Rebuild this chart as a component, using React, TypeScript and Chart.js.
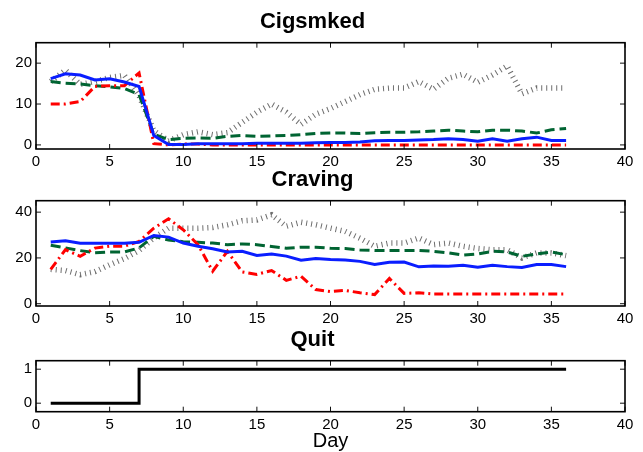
import React, { useEffect, useRef } from "react";
import { Chart, registerables } from "chart.js";

Chart.register(...registerables);

const days = [1, 2, 3, 4, 5, 6, 7, 8, 9, 10, 11, 12, 13, 14, 15, 16, 17, 18, 19, 20, 21, 22, 23, 24, 25, 26, 27, 28, 29, 30, 31, 32, 33, 34, 35, 36];
const xTickValues = [0, 5, 10, 15, 20, 25, 30, 35, 40];

// Cigsmked
const cigBlue = [16.2, 17.4, 17.1, 15.9, 16.2, 15.4, 14.3, 2.3, 0.1, 0.1, 0.3, 0.3, 0.3, 0.3, 0.4, 0.4, 0.4, 0.4, 0.5, 0.6, 0.6, 0.7, 1.0, 1.1, 1.1, 1.2, 1.3, 1.5, 1.3, 0.9, 1.5, 0.9, 1.5, 1.9, 1.1, 1.1];
const cigGreen = [15.5, 15.1, 14.9, 14.5, 14.2, 13.8, 12.3, 2.6, 1.3, 1.6, 1.7, 1.6, 2.1, 2.3, 2.1, 2.2, 2.3, 2.5, 2.8, 2.9, 2.9, 2.8, 3.0, 3.1, 3.1, 3.2, 3.4, 3.6, 3.4, 3.2, 3.6, 3.6, 3.4, 2.9, 3.7, 4.0];
const cigRed = [10.0, 10.0, 10.6, 14.3, 14.5, 14.5, 17.6, 0.3, 0, 0.2, 0.2, 0, 0, 0, 0, 0, 0, 0, 0, 0, 0, 0, 0, 0, 0, 0, 0, 0, 0, 0, 0, 0, 0, 0, 0, 0];
const cigBlack = [15.5, 18.3, 14.8, 15.5, 16.5, 17.0, 12.0, 3.5, 1.0, 2.5, 3.2, 2.5, 3.0, 5.5, 8.0, 10.0, 8.0, 5.0, 7.5, 8.9, 10.6, 12.3, 13.6, 13.9, 13.9, 15.5, 13.6, 16.3, 17.3, 15.3, 17.1, 19.3, 12.5, 13.9, 13.9, 13.9];
const cigYTicks = [0, 10, 20];

// Craving
const cravBlue = [27.0, 27.5, 26.4, 26.4, 26.4, 26.4, 26.8, 29.8, 29.1, 26.5, 25.1, 24.0, 22.6, 22.9, 21.1, 21.7, 20.8, 19.0, 19.7, 19.3, 19.1, 18.5, 17.1, 18.1, 18.2, 16.1, 16.5, 16.4, 16.8, 15.9, 16.8, 16.2, 15.8, 17.1, 17.1, 16.2];
const cravGreen = [25.5, 24.4, 23.2, 22.3, 22.6, 22.6, 24.4, 29.4, 27.8, 27.1, 26.8, 26.5, 25.8, 26.1, 25.8, 25.0, 24.2, 24.7, 24.7, 24.2, 24.1, 23.5, 23.2, 23.2, 23.2, 23.3, 22.9, 22.2, 21.2, 21.7, 22.9, 22.6, 20.7, 21.7, 22.6, 21.4];
const cravRed = [15.0, 23.6, 20.7, 24.3, 25.1, 25.1, 27.2, 33.0, 37.1, 32.3, 25.8, 14.2, 22.9, 13.9, 12.8, 14.5, 10.2, 12.0, 6.2, 5.3, 5.8, 4.8, 4.0, 11.0, 4.5, 4.8, 4.2, 4.2, 4.2, 4.2, 4.2, 4.2, 4.2, 4.2, 4.2, 4.2];
const cravBlack = [15.0, 14.5, 12.7, 14.0, 17.0, 19.7, 23.2, 28.7, 33.0, 33.0, 33.0, 33.3, 34.5, 36.2, 36.6, 38.8, 33.8, 35.6, 34.5, 33.0, 31.6, 28.6, 25.1, 26.5, 26.5, 28.7, 25.8, 26.5, 25.1, 24.1, 23.6, 23.6, 20.0, 22.2, 22.2, 21.0];
const cravYTicks = [0, 20, 40];

// Quit
const quit = [0, 0, 0, 0, 0, 0, 1, 1, 1, 1, 1, 1, 1, 1, 1, 1, 1, 1, 1, 1, 1, 1, 1, 1, 1, 1, 1, 1, 1, 1, 1, 1, 1, 1, 1, 1];
const quitYTicks = [0, 1];

const FONT = "'Liberation Sans', Arial, Helvetica, sans-serif";
const W = 643;

const pts = (vals: number[]) => vals.map((v, i) => ({ x: days[i], y: v }));

const boxPlugin = {
  id: "matlabBox",
  afterDatasetsDraw(chart: any) {
    const { ctx, chartArea: a, scales } = chart;
    const xs = scales.x;
    const ys = scales.y;
    const L = 5;
    ctx.save();
    ctx.strokeStyle = "#111";
    ctx.lineWidth = 1;
    ctx.beginPath();
    xs.ticks.forEach((t: any) => {
      const px = xs.getPixelForValue(t.value);
      ctx.moveTo(px, a.bottom);
      ctx.lineTo(px, a.bottom - L);
      ctx.moveTo(px, a.top);
      ctx.lineTo(px, a.top + L);
    });
    ys.ticks.forEach((t: any) => {
      const py = ys.getPixelForValue(t.value);
      ctx.moveTo(a.left, py);
      ctx.lineTo(a.left + L, py);
      ctx.moveTo(a.right, py);
      ctx.lineTo(a.right - L, py);
    });
    ctx.stroke();
    ctx.strokeStyle = "#000";
    ctx.lineWidth = 1.6;
    ctx.strokeRect(a.left, a.top, a.right - a.left, a.bottom - a.top);
    ctx.restore();
  },
};

function seriesSets(blue: number[], red: number[], green: number[], black: number[]) {
  return [
    { data: pts(blue), borderColor: "rgb(10,30,255)", borderWidth: 3, pointRadius: 0, tension: 0 },
    { data: pts(red), borderColor: "rgb(255,0,0)", borderWidth: 3, borderDash: [9, 4, 2, 4], pointRadius: 0, tension: 0 },
    { data: pts(green), borderColor: "rgb(0,100,50)", borderWidth: 3, borderDash: [10, 5], pointRadius: 0, tension: 0 },
    { data: pts(black), borderColor: "rgba(60,60,60,0.75)", borderWidth: 5.5, borderDash: [1, 4], pointRadius: 0, tension: 0 },
  ];
}

function makeConfig(
  title: string,
  datasets: any[],
  yMin: number,
  yMax: number,
  yTicks: number[],
  canvasH: number,
  areaBottom: number,
  xTitle?: string
) {
  return {
    type: "line",
    data: { datasets },
    plugins: [boxPlugin],
    options: {
      responsive: false,
      animation: false,
      devicePixelRatio: 1,
      layout: { padding: { left: 0, right: 18, top: 0, bottom: 0 } },
      plugins: {
        legend: { display: false },
        tooltip: { enabled: false },
        title: {
          display: true,
          text: title,
          color: "#000",
          font: { family: FONT, size: 22, weight: "bold" },
          padding: { top: 8.5, bottom: 7.8 },
        },
      },
      scales: {
        x: {
          type: "linear",
          min: 0,
          max: 40,
          afterBuildTicks: (s: any) => {
            s.ticks = xTickValues.map((v) => ({ value: v }));
          },
          afterFit: (s: any) => {
            s.height = canvasH - areaBottom;
          },
          grid: { display: false, drawTicks: false },
          border: { display: false },
          ticks: { color: "#000", font: { family: FONT, size: 15 }, padding: 4, maxRotation: 0, autoSkip: false },
          title: xTitle
            ? { display: true, text: xTitle, color: "#000", font: { family: FONT, size: 20, lineHeight: 1.1 }, padding: { top: 0, bottom: 0 } }
            : { display: false },
        },
        y: {
          type: "linear",
          min: yMin,
          max: yMax,
          afterBuildTicks: (s: any) => {
            s.ticks = yTicks.map((v) => ({ value: v }));
          },
          afterFit: (s: any) => {
            s.width = 36;
          },
          grid: { display: false, drawTicks: false },
          border: { display: false },
          ticks: { color: "#000", font: { family: FONT, size: 15 }, padding: 4, autoSkip: false },
        },
      },
    },
  };
}

const panels = [
  { top: 0, height: 172, areaBottom: 149 },
  { top: 158, height: 172, areaBottom: 148 },
  { top: 318, height: 134, areaBottom: 93.7 },
];

export default function App() {
  const r1 = useRef<HTMLCanvasElement>(null);
  const r2 = useRef<HTMLCanvasElement>(null);
  const r3 = useRef<HTMLCanvasElement>(null);

  useEffect(() => {
    const charts: Chart[] = [];
    const c1 = makeConfig("Cigsmked", seriesSets(cigBlue, cigRed, cigGreen, cigBlack), -1, 25, cigYTicks, panels[0].height, panels[0].areaBottom);
    const c2 = makeConfig("Craving", seriesSets(cravBlue, cravRed, cravGreen, cravBlack), -1, 45, cravYTicks, panels[1].height, panels[1].areaBottom);
    const c3 = makeConfig(
      "Quit",
      [{ data: pts(quit), borderColor: "#000", borderWidth: 3, pointRadius: 0, stepped: "before" }],
      -0.25,
      1.25,
      quitYTicks,
      panels[2].height,
      panels[2].areaBottom,
      "Day"
    );
    if (r1.current) charts.push(new Chart(r1.current, c1 as any));
    if (r2.current) charts.push(new Chart(r2.current, c2 as any));
    if (r3.current) charts.push(new Chart(r3.current, c3 as any));
    return () => charts.forEach((c) => c.destroy());
  }, []);

  const refs = [r1, r2, r3];
  return (
    <div style={{ position: "absolute", left: 0, top: 0, width: W, height: 452, background: "#fff", overflow: "hidden" }}>
      {panels.map((p, i) => (
        <canvas
          key={i}
          ref={refs[i]}
          width={W}
          height={p.height}
          style={{ position: "absolute", left: 0, top: p.top, width: W, height: p.height }}
        />
      ))}
    </div>
  );
}
